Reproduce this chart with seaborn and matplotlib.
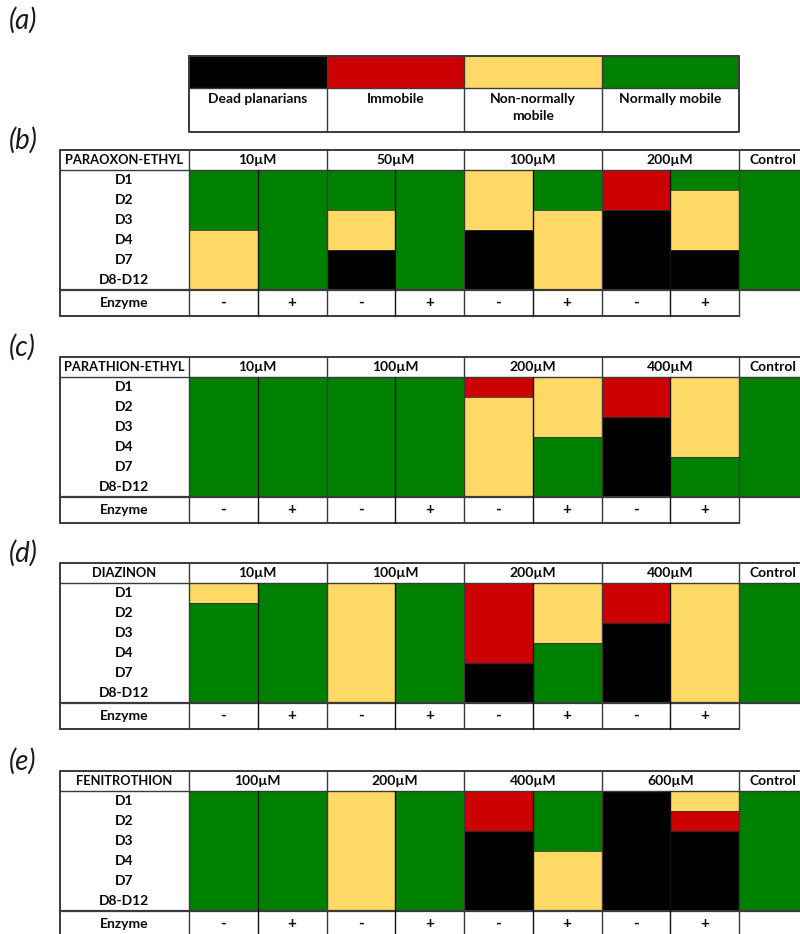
import numpy as np
import pandas as pd
import seaborn as sns
import matplotlib
matplotlib.use("Agg")
import matplotlib.pyplot as plt
from matplotlib.colors import ListedColormap

sns.set_theme(style="white")
plt.rcParams["font.family"] = ["Lato", "DejaVu Sans"]

# =============================
# DADOS
# =============================
# 0 = morto, 1 = imóvel, 2 = não normalmente móvel, 3 = normalmente móvel
legenda_txt = ["Dead planarians", "Immobile", "Non-normally\nmobile", "Normally mobile"]
cores = ["#000000", "#CC0000", "#FFD966", "#008000"]

dias = ["D1", "D2", "D3", "D4", "D7", "D8-D12"]
enzima = ["-", "+", "-", "+", "-", "+", "-", "+"]

paraoxon_conc = ["10µM", "50µM", "100µM", "200µM"]
paraoxon = [
    [3, 3, 3, 2, 2, 2],
    [3, 3, 3, 3, 3, 3],
    [3, 3, 2, 2, 0, 0],
    [3, 3, 3, 3, 3, 3],
    [2, 2, 2, 0, 0, 0],
    [3, 3, 2, 2, 2, 2],
    [1, 1, 0, 0, 0, 0],
    [3, 2, 2, 2, 0, 0],
    [3, 3, 3, 3, 3, 3],
]

parathion_conc = ["10µM", "100µM", "200µM", "400µM"]
parathion = [
    [3, 3, 3, 3, 3, 3],
    [3, 3, 3, 3, 3, 3],
    [3, 3, 3, 3, 3, 3],
    [3, 3, 3, 3, 3, 3],
    [1, 2, 2, 2, 2, 2],
    [2, 2, 2, 3, 3, 3],
    [1, 1, 0, 0, 0, 0],
    [2, 2, 2, 2, 3, 3],
    [3, 3, 3, 3, 3, 3],
]

diazinon_conc = ["10µM", "100µM", "200µM", "400µM"]
diazinon = [
    [2, 3, 3, 3, 3, 3],
    [3, 3, 3, 3, 3, 3],
    [2, 2, 2, 2, 2, 2],
    [3, 3, 3, 3, 3, 3],
    [1, 1, 1, 1, 0, 0],
    [2, 2, 2, 3, 3, 3],
    [1, 1, 0, 0, 0, 0],
    [2, 2, 2, 2, 2, 2],
    [3, 3, 3, 3, 3, 3],
]

fenitrothion_conc = ["100µM", "200µM", "400µM", "600µM"]
fenitrothion = [
    [3, 3, 3, 3, 3, 3],
    [3, 3, 3, 3, 3, 3],
    [2, 2, 2, 2, 2, 2],
    [3, 3, 3, 3, 3, 3],
    [1, 1, 0, 0, 0, 0],
    [3, 3, 3, 2, 2, 2],
    [0, 0, 0, 0, 0, 0],
    [2, 1, 0, 0, 0, 0],
    [3, 3, 3, 3, 3, 3],
]

paineis = [
    ("(b)", "PARAOXON-ETHYL", paraoxon_conc, paraoxon, 150),
    ("(c)", "PARATHION-ETHYL", parathion_conc, parathion, 357),
    ("(d)", "DIAZINON", diazinon_conc, diazinon, 563),
    ("(e)", "FENITROTHION", fenitrothion_conc, fenitrothion, 771),
]

# =============================
# LAYOUT (em pixels)
# =============================
W, H = 800, 934
x_esq, x_col0, larg_col = 60, 189, 68.75
h_cab, h_dados, h_enz = 20, 120, 26
cor_borda = "#3a3a3a"
cmap = ListedColormap(cores)

fig = plt.figure(figsize=(W / 100, H / 100), dpi=100)


def eixo_px(x0, y0, w, h):
    return fig.add_axes([x0 / W, 1 - (y0 + h) / H, w / W, h / H])


# Legenda (a): faixa de cores via heatmap
ax_leg = eixo_px(x_col0, 56, 4 * 2 * larg_col, 32)
sns.heatmap(pd.DataFrame([[0, 1, 2, 3]]), ax=ax_leg, cmap=cmap, vmin=-0.5, vmax=3.5,
            cbar=False, xticklabels=False, yticklabels=False)
ax_leg.axis("off")

# Heatmaps dos painéis
for letra, nome, concs, colunas, topo in paineis:
    df = pd.DataFrame(np.array(colunas).T, index=dias)
    ax = eixo_px(x_col0, topo + h_cab, 9 * larg_col, h_dados)
    sns.heatmap(df, ax=ax, cmap=cmap, vmin=-0.5, vmax=3.5, cbar=False,
                xticklabels=False, yticklabels=False)
    ax.axis("off")

# Eixo por cima para textos e bordas
ov = fig.add_axes([0, 0, 1, 1], facecolor="none")
ov.set_xlim(0, W)
ov.set_ylim(H, 0)
ov.axis("off")

fonte = dict(fontsize=10, fontweight="bold", color="#0a0a0a")
fonte_letra = dict(fontsize=20, fontstyle="italic", fontweight="normal", color="#1a1a1a", va="center")

# ---- Painel (a)
ov.text(9, 20, "(a)", **fonte_letra)
x_fim_leg = x_col0 + 8 * larg_col
ov.plot([x_col0, x_fim_leg, x_fim_leg, x_col0, x_col0], [56, 56, 132, 132, 56], color=cor_borda, lw=1.4)
ov.plot([x_col0, x_fim_leg], [88, 88], color=cor_borda, lw=1.0)
for i in range(1, 4):
    xl = x_col0 + i * 2 * larg_col
    ov.plot([xl, xl], [56, 132], color=cor_borda, lw=1.0)
for i, txt in enumerate(legenda_txt):
    ov.text(x_col0 + (2 * i + 1) * larg_col, 93, txt, ha="center", va="top",
            linespacing=1.45, **fonte)

# ---- Painéis (b)-(e)
for letra, nome, concs, colunas, topo in paineis:
    y_cab = topo + h_cab
    y_dad = y_cab + h_dados
    y_enz = y_dad + h_enz
    x_fim = x_col0 + 8 * larg_col

    ov.text(9, topo - 10, letra, **fonte_letra)

    # bordas externas
    ov.plot([x_esq, W], [topo, topo], color=cor_borda, lw=1.4)
    ov.plot([x_esq, W], [y_cab, y_cab], color=cor_borda, lw=1.0)
    ov.plot([x_esq, W], [y_dad, y_dad], color=cor_borda, lw=1.6)
    ov.plot([x_esq, x_fim], [y_enz, y_enz], color=cor_borda, lw=1.4)
    ov.plot([x_esq, x_esq], [topo, y_enz], color=cor_borda, lw=1.4)
    ov.plot([x_col0, x_col0], [topo, y_enz], color=cor_borda, lw=1.0)
    ov.plot([x_fim, x_fim], [topo, y_enz], color=cor_borda, lw=1.0)

    # linhas verticais
    for j in range(1, 8):
        xl = x_col0 + j * larg_col
        y_ini = topo if j % 2 == 0 else y_cab
        ov.plot([xl, xl], [y_ini, y_enz], color=cor_borda if j % 2 == 0 else "#111111", lw=1.0)

    # limites entre cores dentro das colunas
    h_lin = h_dados / len(dias)
    for j, col in enumerate(colunas):
        for k in range(1, len(col)):
            if col[k] != col[k - 1]:
                yk = y_cab + k * h_lin
                ov.plot([x_col0 + j * larg_col, x_col0 + (j + 1) * larg_col], [yk, yk],
                        color="#333333", lw=0.6)

    # textos do cabeçalho
    ov.text((x_esq + x_col0) / 2, topo + h_cab / 2, nome, ha="center", va="center",
            fontsize=9.3, fontweight="bold", color="#0a0a0a")
    for i, c in enumerate(concs):
        ov.text(x_col0 + (2 * i + 1) * larg_col, topo + h_cab / 2, c, ha="center", va="center", **fonte)
    ov.text(x_col0 + 8.5 * larg_col, topo + h_cab / 2, "Control", ha="center", va="center", **fonte)

    # dias
    for k, d in enumerate(dias):
        ov.text((x_esq + x_col0) / 2, y_cab + (k + 0.5) * h_lin, d, ha="center", va="center", **fonte)

    # enzima
    ov.text((x_esq + x_col0) / 2, y_dad + h_enz / 2, "Enzyme", ha="center", va="center", **fonte)
    for j, e in enumerate(enzima):
        ov.text(x_col0 + (j + 0.5) * larg_col, y_dad + h_enz / 2, e, ha="center", va="center",
                fontsize=11, fontweight="bold", color="#0a0a0a")

fig.savefig("out.png", dpi=100)
